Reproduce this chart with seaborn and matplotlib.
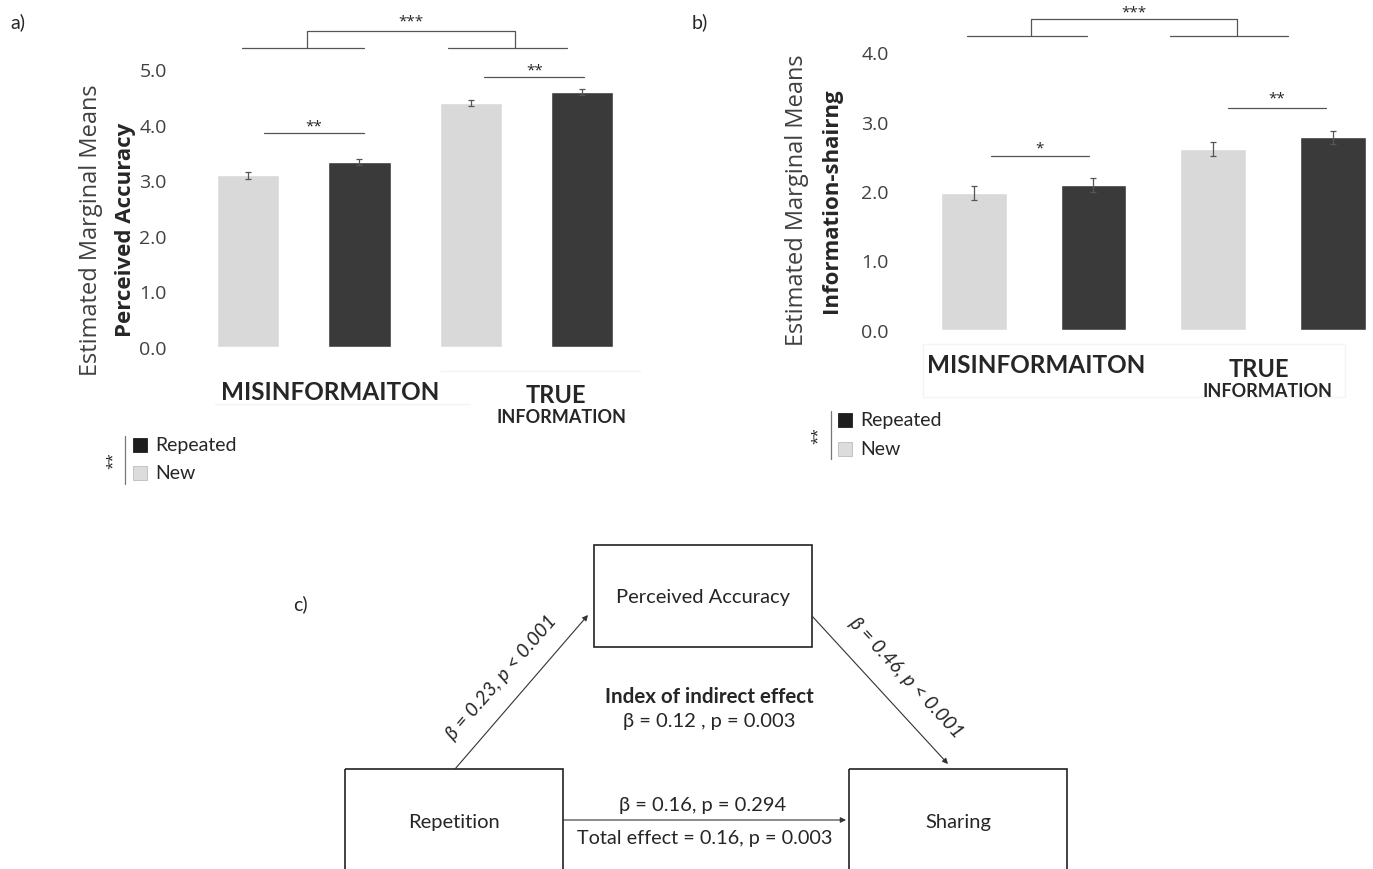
import numpy as np
import pandas as pd
import seaborn as sns
import matplotlib.pyplot as plt
from matplotlib.patches import Rectangle

# values
groups = ["MISINFORMAITON", "TRUE INFORMATION"]
conditions = ["New", "Repeated"]
accuracy_new = [3.09, 4.39]
accuracy_rep = [3.33, 4.59]
accuracy_err_new = [0.06, 0.05]
accuracy_err_rep = [0.06, 0.05]
sharing_new = [1.97, 2.61]
sharing_rep = [2.09, 2.77]
sharing_err_new = [0.10, 0.10]
sharing_err_rep = [0.10, 0.10]
accuracy_ticks = [0, 1, 2, 3, 4, 5]
sharing_ticks = [0, 1, 2, 3, 4]

LIGHT = "#d9d9d9"
DARK = "#3a3a3a"
TXT = "#262626"

sns.set_theme(style="white")
plt.rcParams["font.family"] = ["Open Sans", "DejaVu Sans"]

W, H = 1373, 870
fig = plt.figure(figsize=(W / 100, H / 100), dpi=100)


def px_axes(left, top, right, bottom):
    return fig.add_axes([left / W, 1 - bottom / H, (right - left) / W, (bottom - top) / H])


def bar_panel(ax, new, rep, err_new, err_rep, ticks, gap, pad):
    df = pd.DataFrame({
        "group": groups * 2,
        "condition": ["New"] * 2 + ["Repeated"] * 2,
        "value": new + rep,
    })
    sns.barplot(data=df, x="group", y="value", hue="condition", order=groups,
                hue_order=conditions, palette=[LIGHT, DARK], width=1.0, gap=gap,
                errorbar=None, legend=False, ax=ax, saturation=1)
    for cont, errs in zip(ax.containers, [err_new, err_rep]):
        for bar, e in zip(cont, errs):
            xc = bar.get_x() + bar.get_width() / 2
            ax.errorbar(xc, bar.get_height(), yerr=e, color="#555555", lw=0.9,
                        capsize=2.5, capthick=0.9)
    ax.set_ylim(0, ticks[-1])
    ax.set_yticks(ticks)
    ax.set_yticklabels([f"{t:.1f}" for t in ticks], fontsize=14, color="#404040")
    ax.tick_params(axis="y", length=0, pad=pad)
    ax.set_xticks([])
    ax.set_xlabel("")
    ax.set_ylabel("")
    sns.despine(ax=ax, left=True, bottom=True)


def bracket(ax, x0, x1, y, text, ty, fs=11):
    ax.plot([x0, x1], [y, y], color="#555555", lw=0.9, clip_on=False)
    ax.text((x0 + x1) / 2, ty, text, ha="center", va="center", fontsize=fs,
            color=TXT, clip_on=False)


def big_bracket(ax, l1, l2, r1, r2, lo, hi, xl, xr, ty):
    kw = dict(color="#555555", lw=0.9, clip_on=False)
    ax.plot([l1, l2], [lo, lo], **kw)
    ax.plot([r1, r2], [lo, lo], **kw)
    ax.plot([xl, xl, xr, xr], [lo, hi, hi, lo], **kw)
    ax.text((xl + xr) / 2, ty, "***", ha="center", va="center", fontsize=11,
            color=TXT, clip_on=False)


# panel a
ax_a = px_axes(200, 70, 630, 348)
bar_panel(ax_a, accuracy_new, accuracy_rep, accuracy_err_new, accuracy_err_rep,
          accuracy_ticks, 0.44, 24)
ax_a.set_xlim(-0.466, 1.465)
big_bracket(ax_a, -0.277, 0.27, 0.648, 1.18, 5.38, 5.68, 0.015, 0.948, 5.86)
bracket(ax_a, -0.18, 0.27, 3.85, "**", 3.98)
bracket(ax_a, 0.81, 1.26, 4.86, "**", 4.99)

# panel b
ax_b = px_axes(915, 53, 1373, 331)
bar_panel(ax_b, sharing_new, sharing_rep, sharing_err_new, sharing_err_rep,
          sharing_ticks, 0.45, 19)
ax_b.set_xlim(-0.494, 1.415)
big_bracket(ax_b, -0.277, 0.223, 0.569, 1.06, 4.23, 4.47, -0.01, 0.848, 4.57)
bracket(ax_b, -0.177, 0.23, 2.50, "*", 2.62)
bracket(ax_b, 0.81, 1.22, 3.19, "**", 3.34)

# overlay in pixel coordinates for labels, legends and the mediation diagram
ov = fig.add_axes([0, 0, 1, 1])
ov.set_xlim(0, W)
ov.set_ylim(H, 0)
ov.axis("off")
ov.patch.set_alpha(0)

cal = ["Lato", "DejaVu Sans"]

for x, y, s in [(18, 22, "a)"), (700, 22, "b)"), (300, 604, "c)")]:
    ov.text(x, y, s, fontsize=14, color=TXT, ha="center", va="center", family=cal)

# y labels
ov.text(91, 230, "Estimated Marginal Means", rotation=90, fontsize=17, color="#404040",
        ha="center", va="center")
ov.text(126, 230, "Perceived Accuracy", rotation=90, fontsize=16, fontweight="bold",
        color=TXT, ha="center", va="center")
ov.text(797, 200, "Estimated Marginal Means", rotation=90, fontsize=17, color="#404040",
        ha="center", va="center")
ov.text(831, 201, "Information-shairng", rotation=90, fontsize=16, fontweight="bold",
        color=TXT, ha="center", va="center")

# group labels
for (mx, my, tx, ty, ix, iy) in [(330, 393, 556, 396, 561, 418),
                                 (1036, 366, 1259, 370, 1267, 392)]:
    ov.text(mx, my, groups[0], fontsize=17.5, fontweight="bold", color=TXT,
            ha="center", va="center", family=cal)
    ov.text(tx, ty, groups[1].split()[0], fontsize=17, fontweight="bold", color=TXT,
            ha="center", va="center", family=cal)
    ov.text(ix, iy, groups[1].split()[1], fontsize=13, fontweight="bold", color=TXT,
            ha="center", va="center", family=cal)

# faint frames around group labels
ov.plot([215, 470], [405, 405], color="#f4f4f4", lw=1)
ov.plot([440, 640], [372, 372], color="#f4f4f4", lw=1)
ov.add_patch(Rectangle((923, 345), 422, 53, fill=False, ec="#f4f4f4", lw=1))

# legends
for (sx, y1, y2, lx, ly0, ly1, star_x) in [(133, 446, 474, 125, 437, 485, 113),
                                           (838, 421, 450, 831, 412, 460, 818)]:
    for y, c, lab in [(y1, "#1e1e1e", "Repeated"), (y2, "#dcdcdc", "New")]:
        ov.add_patch(Rectangle((sx, y - 7), 14, 14, fc=c,
                               ec="#bbbbbb" if c != "#1e1e1e" else c, lw=0.6))
        ov.text(sx + 22, y, lab, fontsize=14, color=TXT, ha="left", va="center", family=cal)
    ov.plot([lx, lx], [ly0, ly1], color="#777777", lw=0.9)
    ov.text(star_x, (ly0 + ly1) / 2, "**", rotation=90, fontsize=11, color=TXT,
            ha="center", va="center")

# mediation diagram
box_kw = dict(fill=False, ec="#222222", lw=1.2)
ov.add_patch(Rectangle((594, 546), 218, 102, **box_kw))
ov.add_patch(Rectangle((345, 770), 218, 110, **box_kw))
ov.add_patch(Rectangle((849, 770), 218, 110, **box_kw))
ov.text(703, 598, "Perceived Accuracy", fontsize=14.5, color=TXT, ha="center", va="center", family=cal)
ov.text(454, 823, "Repetition", fontsize=14.5, color=TXT, ha="center", va="center", family=cal)
ov.text(958, 823, "Sharing", fontsize=14.5, color=TXT, ha="center", va="center", family=cal)

arrow = dict(arrowstyle="-|>", color="#333333", lw=0.8, mutation_scale=8, shrinkA=0, shrinkB=0)
ov.annotate("", xy=(588, 616), xytext=(455, 770), arrowprops=arrow)
ov.annotate("", xy=(948, 765), xytext=(812, 617), arrowprops=arrow)
ov.annotate("", xy=(846, 821), xytext=(563, 821), arrowprops=arrow)

ov.text(502, 678, "β = 0.23, p < 0.001", rotation=49, fontsize=14, style="italic",
        color=TXT, ha="center", va="center", rotation_mode="anchor", family=cal)
ov.text(906, 678, "β = 0.46, p < 0.001", rotation=-47, fontsize=14, style="italic",
        color=TXT, ha="center", va="center", rotation_mode="anchor", family=cal)
ov.text(709, 697, "Index of indirect effect", fontsize=14.8, fontweight="bold",
        color=TXT, ha="center", va="center", family=cal)
ov.text(709, 722, "β = 0.12 , p = 0.003", fontsize=14.5, color=TXT, ha="center",
        va="center", family=cal)
ov.text(703, 806, "β = 0.16, p = 0.294", fontsize=14.5, color=TXT, ha="center",
        va="center", family=cal)
ov.text(705, 839, "Total effect = 0.16, p = 0.003", fontsize=14.3, color=TXT,
        ha="center", va="center", family=cal)

fig.savefig("out.png", dpi=100)
plt.close(fig)
